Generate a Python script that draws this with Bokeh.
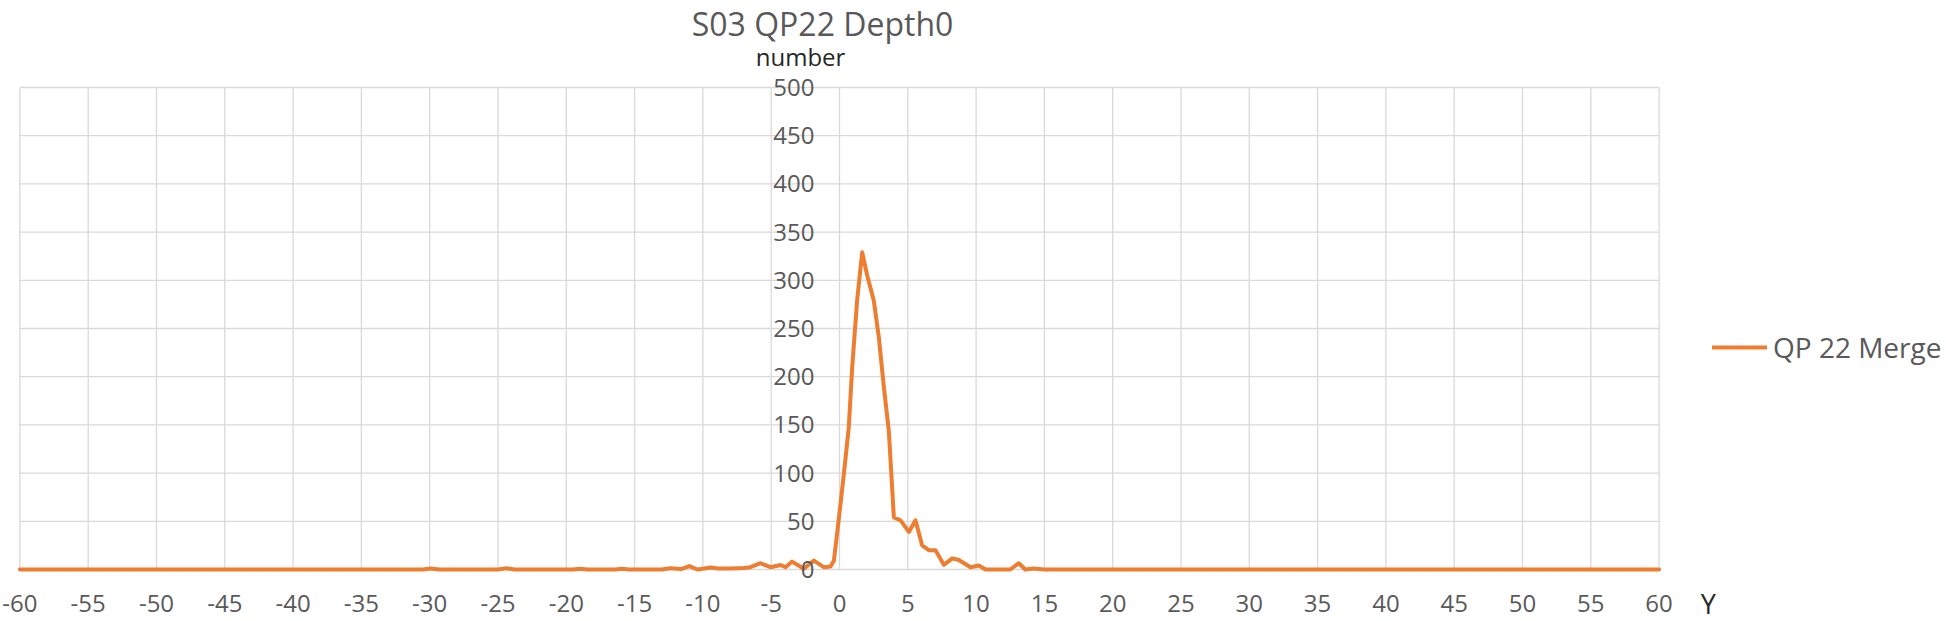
from bokeh.plotting import figure
from bokeh.models import Range1d, FixedTicker, Legend, LegendItem, Label, NumeralTickFormatter
from bokeh.embed import file_html
from bokeh.resources import INLINE

# ---- data ----
title_text = "S03 QP22 Depth0"
y_axis_title = "number"
x_axis_title = "Y"
series_name = "QP 22 Merge"

x_vals = [-60, -30.5, -29.9, -29.3, -25.0, -24.4, -23.8, -19.5, -19.0, -18.5,
          -16.4, -15.9, -15.4, -13.0, -12.4, -11.6, -11.0, -10.4, -9.9, -9.44,
          -8.9, -8.0, -7.0, -6.52, -5.78, -5.05, -4.32, -3.95, -3.47, -2.61,
          -1.88, -1.15, -0.66, -0.41, -0.12, 0.32, 0.68, 0.93, 1.29, 1.66,
          2.03, 2.51, 2.88, 3.25, 3.61, 3.98, 4.47, 5.08, 5.56, 6.05,
          6.54, 7.03, 7.64, 8.25, 8.74, 9.59, 10.2, 10.69, 12.5, 13.13,
          13.6, 14.2, 15.0, 60]
y_vals = [0, 0, 1, 0, 0, 1.2, 0, 0, 0.7, 0,
          0, 0.7, 0, 0, 1.3, 0.5, 3.5, 0, 1, 2,
          1, 1, 1.5, 2.4, 6.5, 2.4, 4.7, 2.4, 8.2, 0.7,
          9.2, 2.4, 3.1, 9.2, 43.9, 99, 147.6, 210, 279, 329,
          305, 279, 241, 189, 144, 54, 51, 39, 51, 25,
          20, 20, 4.8, 11.6, 9.9, 2.3, 4.1, 0, 0, 6.5,
          0, 1, 0, 0]

x_ticks = list(range(-60, 61, 5))
y_ticks = list(range(0, 501, 50))
x_min, x_max = -60, 60
y_min, y_max = 0, 500

TEXT = "Open Sans"
GRAY = "#595959"
DARK = "#262626"
ORANGE = "#ED7D31"
GRID = "#d9d9d9"

p = figure(width=1946, height=621, output_backend="svg", toolbar_location=None,
           x_range=Range1d(-61.42, 81.04), y_range=Range1d(-53.94, 590.25),
           min_border_left=0, min_border_right=0, min_border_top=0,
           min_border_bottom=0)
p.outline_line_color = None
p.background_fill_color = "white"
p.border_fill_color = "white"
p.xgrid.visible = False
p.ygrid.visible = False

# gridlines limited to the plot area
p.segment(x0=x_ticks, y0=[y_min] * len(x_ticks), x1=x_ticks, y1=[y_max] * len(x_ticks),
          line_color=GRID, line_width=1.3)
p.segment(x0=[x_min] * len(y_ticks), y0=y_ticks, x1=[x_max] * len(y_ticks), y1=y_ticks,
          line_color=GRID, line_width=1.3)

# axes crossing at the origin
p.xaxis.fixed_location = 0
p.yaxis.fixed_location = 0
p.xaxis.ticker = FixedTicker(ticks=x_ticks)
p.yaxis.ticker = FixedTicker(ticks=y_ticks)
for ax in (p.xaxis, p.yaxis):
    ax.formatter = NumeralTickFormatter(format="0")
    ax.major_tick_line_color = None
    ax.minor_tick_line_color = None
    ax.axis_line_color = None
    ax.major_label_text_font = TEXT
    ax.major_label_text_font_size = "24px"
    ax.major_label_text_color = GRAY
p.xaxis.major_label_standoff = 19
p.yaxis.major_label_standoff = 19

r = p.line(x_vals, y_vals, line_color=ORANGE, line_width=4, line_join="round",
           line_cap="round")

legend = Legend(items=[LegendItem(label=series_name, renderers=[r])],
                location=(1712, 255), padding=0, margin=0, glyph_width=55,
                glyph_height=20, label_standoff=6, border_line_color=None,
                background_fill_alpha=0, label_text_font=TEXT,
                label_text_font_size="28px", label_text_color=GRAY)
p.add_layout(legend)

p.add_layout(Label(x=-1.24, y=566.9, text=title_text, text_font=TEXT,
                   text_font_size="32px", text_color=GRAY, text_align="center",
                   text_baseline="middle"))
p.add_layout(Label(x=-2.85, y=532.2, text=y_axis_title, text_font=TEXT,
                   text_font_size="24px", text_color=DARK, text_align="center",
                   text_baseline="middle"))
p.add_layout(Label(x=63.6, y=-34.8, text=x_axis_title, text_font=TEXT,
                   text_font_size="27px", text_color=DARK, text_align="center",
                   text_baseline="middle"))

open("out.html", "w").write(file_html(p, INLINE))
